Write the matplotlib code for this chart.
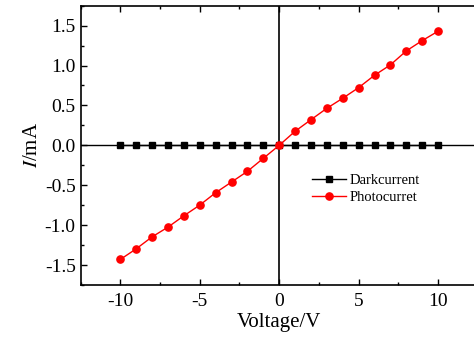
import matplotlib
matplotlib.use("Agg")
import matplotlib.pyplot as plt
from matplotlib.ticker import MultipleLocator

plt.rcParams['font.family'] = ['Liberation Serif', 'DejaVu Serif']
plt.rcParams['mathtext.fontset'] = 'stix'

voltage = [-10, -9, -8, -7, -6, -5, -4, -3, -2, -1, 0, 1, 2, 3, 4, 5, 6, 7, 8, 9, 10]
dark_current = [0.0] * 21
photo_current = [-1.430, -1.297, -1.147, -1.025, -0.883, -0.749, -0.594, -0.460, -0.326, -0.163, 0.0,
                 0.176, 0.321, 0.464, 0.590, 0.723, 0.878, 1.008, 1.183, 1.312, 1.430]
xticks = [-10, -5, 0, 5, 10]
yticks = [-1.5, -1.0, -0.5, 0.0, 0.5, 1.0, 1.5]

fig = plt.figure(figsize=(4.74, 3.42), dpi=100)
ax = fig.add_axes([0.170, 0.1667, 0.838, 0.8167])

ax.axhline(0, color='black', lw=1.0, zorder=1)
ax.axvline(0, color='black', lw=1.2, zorder=1)

ax.plot(voltage, dark_current, color='black', marker='s', markersize=4.5, lw=1.0,
        label='Darkcurrent', zorder=3)
ax.plot(voltage, photo_current, color='red', marker='o', markersize=5.2, lw=1.0,
        label='Photocurret', zorder=4)

ax.set_xlim(-12.5, 12.5)
ax.set_ylim(-1.75, 1.75)
ax.set_xticks(xticks)
ax.set_yticks(yticks)
ax.set_xticklabels([str(t) for t in xticks])
ax.set_yticklabels([f"{t:.1f}" for t in yticks])
ax.xaxis.set_minor_locator(MultipleLocator(2.5))
ax.yaxis.set_minor_locator(MultipleLocator(0.25))
ax.tick_params(which='major', direction='in', length=4, width=1, labelsize=14, top=True, right=False)
ax.tick_params(which='minor', direction='in', length=2.5, width=1, top=True, right=False)
ax.tick_params(axis='x', pad=6)
for s in ax.spines.values():
    s.set_linewidth(1.2)

ax.set_xlabel('Voltage/V', fontsize=15, labelpad=2)
ax.set_ylabel('$\\mathit{I}$/mA', fontsize=15, labelpad=2)

ax.legend(loc='upper left', bbox_to_anchor=(0.568, 0.42), frameon=False, fontsize=10.5,
          handlelength=2.3, handletextpad=0.25, labelspacing=0.3, borderaxespad=0)

fig.savefig('out.png', dpi=100)
